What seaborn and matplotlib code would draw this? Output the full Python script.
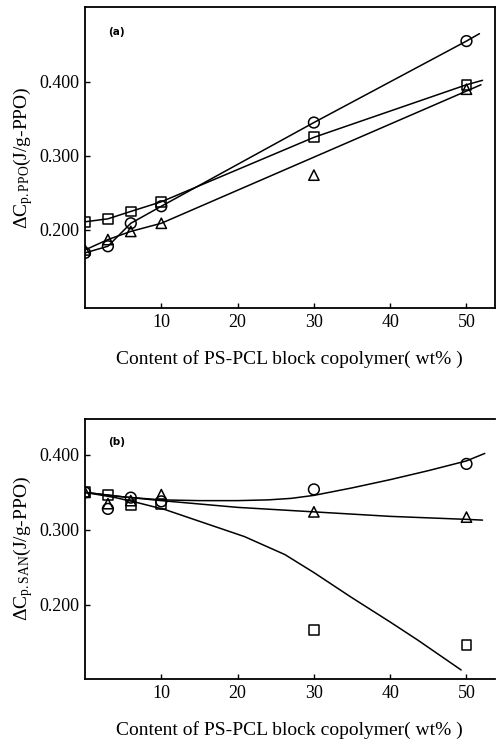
import matplotlib
matplotlib.use("Agg")
import matplotlib.pyplot as plt
import seaborn as sns

# content of PS-PCL block copolymer (wt%)
content = [0, 3, 6, 10, 30, 50]

# (a) dCp of PPO phase
a_circle = [0.169, 0.178, 0.209, 0.232, 0.345, 0.455]
a_square = [0.211, 0.215, 0.225, 0.238, 0.325, 0.396]
a_triangle = [0.173, 0.187, 0.198, 0.209, 0.274, 0.390]

# (a) drawn lines (vertices)
a_circle_line_x = [0, 3, 6, 10, 30, 50, 51.7]
a_circle_line_y = [0.169, 0.178, 0.209, 0.232, 0.345, 0.455, 0.465]
a_square_line_x = [0, 3, 6, 10, 30, 50, 52.1]
a_square_line_y = [0.211, 0.215, 0.225, 0.238, 0.325, 0.396, 0.402]
a_triangle_line_x = [0, 3, 6, 10, 51.9]
a_triangle_line_y = [0.173, 0.187, 0.198, 0.209, 0.396]

# (b) dCp of SAN phase
b_circle = [0.350, 0.328, 0.343, 0.338, 0.354, 0.388]
b_square = [0.350, 0.346, 0.333, 0.334, 0.166, 0.146]
b_triangle = [0.350, 0.335, 0.339, 0.347, 0.324, 0.317]

# (b) fitted curves
b_upper_x = [0, 5, 10, 15, 20, 24, 27, 30, 35, 40, 45, 50, 52.4]
b_upper_y = [0.350, 0.344, 0.340, 0.339, 0.339, 0.340, 0.342, 0.346, 0.356, 0.367, 0.379, 0.392, 0.402]
b_middle_x = [0, 5, 10, 20, 30, 40, 50, 52.1]
b_middle_y = [0.350, 0.344, 0.339, 0.330, 0.324, 0.318, 0.314, 0.313]
b_lower_x = [0, 4, 7, 10.5, 15.7, 20.9, 26.2, 30, 34.9, 40, 43.6, 49.3]
b_lower_y = [0.350, 0.343, 0.336, 0.327, 0.309, 0.291, 0.267, 0.243, 0.210, 0.177, 0.153, 0.113]

xticks = [10, 20, 30, 40, 50]
yticks = [0.2, 0.3, 0.4]

sns.set_theme(style="ticks")
plt.rcParams["font.family"] = ["Liberation Serif", "DejaVu Serif"]
plt.rcParams["mathtext.fontset"] = "custom"
plt.rcParams["mathtext.rm"] = "Liberation Serif"
plt.rcParams["mathtext.it"] = "Liberation Serif:italic"
plt.rcParams["text.color"] = "black"
plt.rcParams["axes.labelcolor"] = "black"

fig = plt.figure(figsize=(4.96, 7.44), dpi=100)
ax1 = fig.add_axes([0.1714, 0.586, 0.826, 0.4046])
ax2 = fig.add_axes([0.1714, 0.0874, 0.826, 0.3495])

lw = 1.1
mk = dict(facecolor="none", edgecolor="black", linewidth=1.1, zorder=3, legend=False)


def draw_line(ax, xs, ys):
    sns.lineplot(x=xs, y=ys, ax=ax, color="black", linewidth=lw,
                 sort=False, estimator=None)


def draw_points(ax, ys, marker, size):
    sns.scatterplot(x=content, y=ys, ax=ax, marker=marker, s=size, **mk)


# panel (a)
draw_line(ax1, a_circle_line_x, a_circle_line_y)
draw_line(ax1, a_square_line_x, a_square_line_y)
draw_line(ax1, a_triangle_line_x, a_triangle_line_y)
draw_points(ax1, a_circle, "o", 60)
draw_points(ax1, a_square, "s", 50)
draw_points(ax1, a_triangle, "^", 55)
ax1.set_ylim(0.0946, 0.501)
ax1.set_ylabel("ΔC$_{\\rm p.PPO}$(J/g-PPO)", fontsize=14, labelpad=3)
ax1.text(0.056, 0.918, "(a)", transform=ax1.transAxes, fontsize=7.5,
         fontweight="bold", family="DejaVu Sans", va="center")

# panel (b)
draw_line(ax2, b_upper_x, b_upper_y)
draw_line(ax2, b_middle_x, b_middle_y)
draw_line(ax2, b_lower_x, b_lower_y)
draw_points(ax2, b_circle, "o", 60)
draw_points(ax2, b_square, "s", 50)
draw_points(ax2, b_triangle, "^", 55)
ax2.set_ylim(0.101, 0.448)
ax2.set_ylabel("ΔC$_{\\rm p.SAN}$(J/g-PPO)", fontsize=14, labelpad=3)
ax2.text(0.056, 0.913, "(b)", transform=ax2.transAxes, fontsize=7.5,
         fontweight="bold", family="DejaVu Sans", va="center")

for ax in (ax1, ax2):
    ax.set_xlim(0, 53.7)
    ax.set_xticks(xticks)
    ax.set_yticks(yticks)
    ax.set_yticklabels(["%.3f" % v for v in yticks])
    ax.tick_params(direction="in", length=3.5, width=1, labelsize=13,
                   colors="black", pad=4)
    ax.set_xlabel("Content of PS-PCL block copolymer( wt% )", fontsize=14,
                  labelpad=14)
    for s in ax.spines.values():
        s.set_linewidth(1.3)
        s.set_color("black")
ax2.spines["right"].set_visible(False)

fig.savefig("out.png", dpi=100)
